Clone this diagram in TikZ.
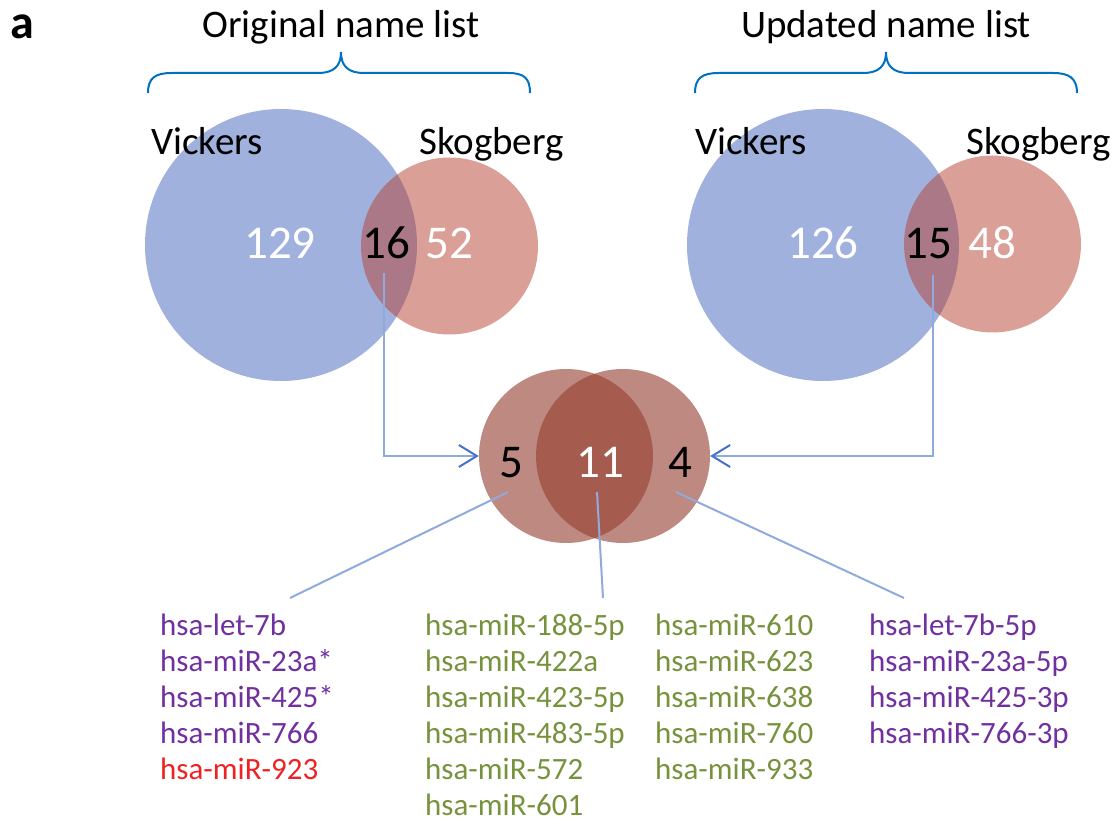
\documentclass[tikz,border=0pt]{standalone}
\usepackage{fontspec}
\setmainfont{Carlito}
\usetikzlibrary{arrows.meta}
\definecolor{vblue}{RGB}{65,100,190}
\definecolor{vred}{RGB}{181,65,49}
\definecolor{vbrown}{RGB}{149,63,48}
\definecolor{linkblue}{RGB}{143,170,220}
\definecolor{tipblue}{RGB}{68,114,196}
\definecolor{bracecol}{RGB}{0,112,192}
\definecolor{mirpurple}{RGB}{112,48,160}
\definecolor{mirgreen}{RGB}{118,146,60}
\definecolor{mirred}{RGB}{238,34,34}
\begin{document}
\begin{tikzpicture}[x=1pt,y=-1pt,
  bigset/.style={circle, fill=vblue, fill opacity=0.5, inner sep=0, minimum size=272pt},
  smallset/.style={circle, fill=vred, fill opacity=0.5, inner sep=0, minimum size=177pt},
  midset/.style={circle, fill=vbrown, fill opacity=0.615, inner sep=0, minimum size=174pt},
  numtxt/.style={inner sep=0, anchor=base, font=\fontsize{47}{50}\selectfont},
  settxt/.style={inner sep=0, anchor=base west, font=\fontsize{39}{44}\selectfont},
  titletxt/.style={inner sep=0, anchor=base, font=\fontsize{39}{44}\selectfont},
  listtxt/.style={inner sep=0, anchor=base west, font=\fontsize{31}{36}\selectfont},
  link/.style={draw=linkblue, line width=2pt},
  brace/.style={draw=bracecol, line width=2pt},
  tip/.style={-{Straight Barb[length=18pt,width=22pt,line width=2pt,color=tipblue]}}
]
\useasboundingbox (0,0) rectangle (1120,826);

% panel label
\node[inner sep=0, anchor=base west, font=\bfseries\fontsize{48}{48}\selectfont] (lbl) at (10,39) {a};

% titles and braces
\node[titletxt] (t1) at (341,38) {Original name list};
\node[titletxt] (t2) at (886,38) {Updated name list};
\draw[brace] (148,93) .. controls (148,78) and (155,73) .. (172,73) -- (318,73)
  .. controls (334,73) and (341,66) .. (341,52)
  .. controls (341,66) and (348,73) .. (364,73) -- (508,73)
  .. controls (524,73) and (530,78) .. (530,93);
\draw[brace] (695,93) .. controls (695,78) and (702,73) .. (719,73) -- (863,73)
  .. controls (879,73) and (886,66) .. (886,52)
  .. controls (886,66) and (893,73) .. (909,73) -- (1053,73)
  .. controls (1069,73) and (1077,78) .. (1077,93);

% left Venn
\node[bigset] (vl) at (281,245) {};
\node[smallset] (sl) at (449.5,246) {};
\node[settxt] (vlt) at (151,155) {Vickers};
\node[settxt] (slt) at (419,155) {Skogberg};
\node[numtxt, text=white] (n129) at (280,259) {129};
\node[numtxt] (n16) at (386,259) {16};
\node[numtxt, text=white] (n52) at (449.5,259) {52};

% right Venn
\node[bigset] (vr) at (823,245) {};
\node[smallset] (sr) at (992.5,244) {};
\node[settxt] (vrt) at (695,155) {Vickers};
\node[settxt] (srt) at (966,155) {Skogberg};
\node[numtxt, text=white] (n126) at (823,259) {126};
\node[numtxt] (n15) at (928,259) {15};
\node[numtxt, text=white] (n48) at (992,259) {48};

% middle Venn
\node[midset] (m1) at (566,456) {};
\node[midset] (m2) at (623,456) {};
\node[numtxt] (n5) at (511,477) {5};
\node[numtxt, text=white] (n11) at (600,477) {11};
\node[numtxt] (n4) at (680,477) {4};

% arrows
\coordinate (s16) at (384,273);
\coordinate (s15) at (933,275);
\draw[link, tip] (s16) |- (m1.west);
\draw[link, tip] (s15) |- (m2.east);

% leader lines
\coordinate (p5) at (508,492);
\coordinate (e5) at (290,598);
\coordinate (p11) at (597,492);
\coordinate (e11) at (603,598);
\coordinate (p4) at (676,492);
\coordinate (e4) at (904,598);
\draw[link] (p5) -- (e5);
\draw[link] (p11) -- (e11);
\draw[link] (p4) -- (e4);

% lists
\foreach \t [count=\i from 0] in {hsa-let-7b, hsa-miR-23a*, hsa-miR-425*, hsa-miR-766}
  \node[listtxt, text=mirpurple] (a\i) at (160,{635+36*\i}) {\t};
\node[listtxt, text=mirred] (a4) at (160,779) {hsa-miR-923};
\foreach \t [count=\i from 0] in {hsa-miR-188-5p, hsa-miR-422a, hsa-miR-423-5p, hsa-miR-483-5p, hsa-miR-572, hsa-miR-601}
  \node[listtxt, text=mirgreen] (b\i) at (425,{635+36*\i}) {\t};
\foreach \t [count=\i from 0] in {hsa-miR-610, hsa-miR-623, hsa-miR-638, hsa-miR-760, hsa-miR-933}
  \node[listtxt, text=mirgreen] (c\i) at (655,{635+36*\i}) {\t};
\foreach \t [count=\i from 0] in {hsa-let-7b-5p, hsa-miR-23a-5p, hsa-miR-425-3p, hsa-miR-766-3p}
  \node[listtxt, text=mirpurple] (d\i) at (869,{635+36*\i}) {\t};
\end{tikzpicture}
\end{document}
